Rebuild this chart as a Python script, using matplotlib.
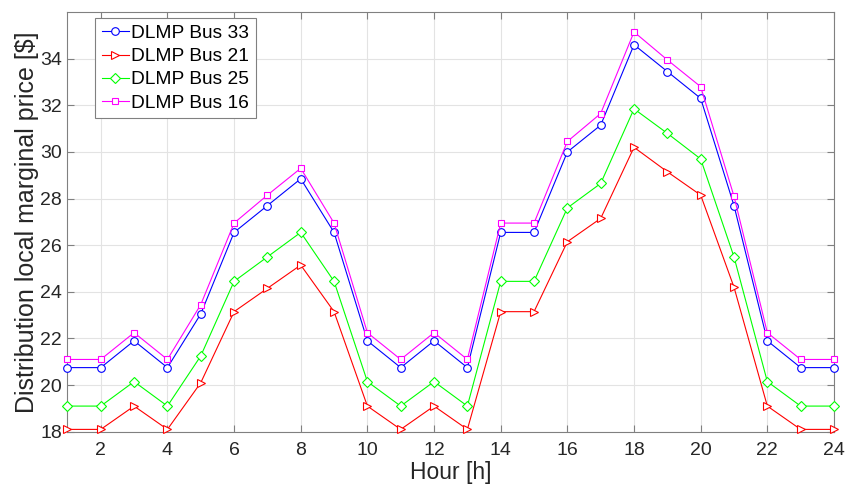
import matplotlib.pyplot as plt
import numpy as np

plt.rcParams["font.family"] = ["Liberation Sans", "DejaVu Sans"]

hours = np.arange(1, 25)
xticks = np.arange(2, 25, 2)
yticks = np.arange(18, 35, 2)

dlmp_bus33 = [20.75, 20.75, 21.9, 20.75, 23.05, 26.55, 27.7, 28.85, 26.55, 21.9, 20.75, 21.9,
              20.75, 26.55, 26.55, 30.0, 31.15, 34.6, 33.45, 32.3, 27.7, 21.9, 20.75, 20.75]
dlmp_bus21 = [18.1, 18.1, 19.1, 18.1, 20.1, 23.15, 24.15, 25.15, 23.15, 19.1, 18.1, 19.1,
              18.1, 23.15, 23.15, 26.15, 27.15, 30.2, 29.15, 28.15, 24.2, 19.1, 18.1, 18.1]
dlmp_bus25 = [19.1, 19.1, 20.15, 19.1, 21.25, 24.45, 25.5, 26.55, 24.45, 20.15, 19.1, 20.15,
              19.1, 24.45, 24.45, 27.6, 28.65, 31.85, 30.8, 29.7, 25.5, 20.15, 19.1, 19.1]
dlmp_bus16 = [21.1, 21.1, 22.25, 21.1, 23.45, 26.95, 28.15, 29.3, 26.95, 22.25, 21.1, 22.25,
              21.1, 26.95, 26.95, 30.45, 31.65, 35.15, 33.95, 32.8, 28.1, 22.25, 21.1, 21.1]

series = [
    ("DLMP Bus 33", dlmp_bus33, "#0000ff", "o", 5.5),
    ("DLMP Bus 21", dlmp_bus21, "#ff0000", ">", 6.3),
    ("DLMP Bus 25", dlmp_bus25, "#00ff00", "D", 4.8),
    ("DLMP Bus 16", dlmp_bus16, "#ff00ff", "s", 4.2),
]

fig = plt.figure(figsize=(8.46, 4.84), dpi=100)
ax = fig.add_axes([0.0797, 0.108, 0.9061, 0.867])

for label, vals, color, marker, ms in series:
    ax.plot(hours, vals, color=color, linewidth=0.8, marker=marker, markersize=ms,
            markerfacecolor="white", markeredgecolor=color, markeredgewidth=0.8,
            label=label, clip_on=False, zorder=3)

ax.set_xlim(1, 24)
ax.set_ylim(18, 36)
ax.set_xticks(xticks)
ax.set_yticks(yticks)
ax.grid(True, color="#e3e3e3", linewidth=0.8)
ax.set_axisbelow(True)
ax.tick_params(direction="in", top=True, right=True, length=5, width=0.8,
               color="#808080", labelsize=14, labelcolor="#262626")
ax.tick_params(axis="x", pad=7.5)
ax.tick_params(axis="y", pad=4)
for sp in ax.spines.values():
    sp.set_color("#808080")
    sp.set_linewidth(0.8)

ax.set_xlabel("Hour [h]", fontsize=16.5, color="#262626", labelpad=1.5)
ax.set_ylabel("Distribution local marginal price [$]", fontsize=18, color="#262626", labelpad=1)

leg = ax.legend(loc="upper left", bbox_to_anchor=(0.036, 0.986), borderaxespad=0,
                fontsize=13.8, handlelength=1.4, handletextpad=0.15, labelspacing=0.3,
                borderpad=0.35, fancybox=False, framealpha=1, edgecolor="#808080")
leg.get_frame().set_linewidth(0.8)

fig.savefig("out.png", dpi=100)
